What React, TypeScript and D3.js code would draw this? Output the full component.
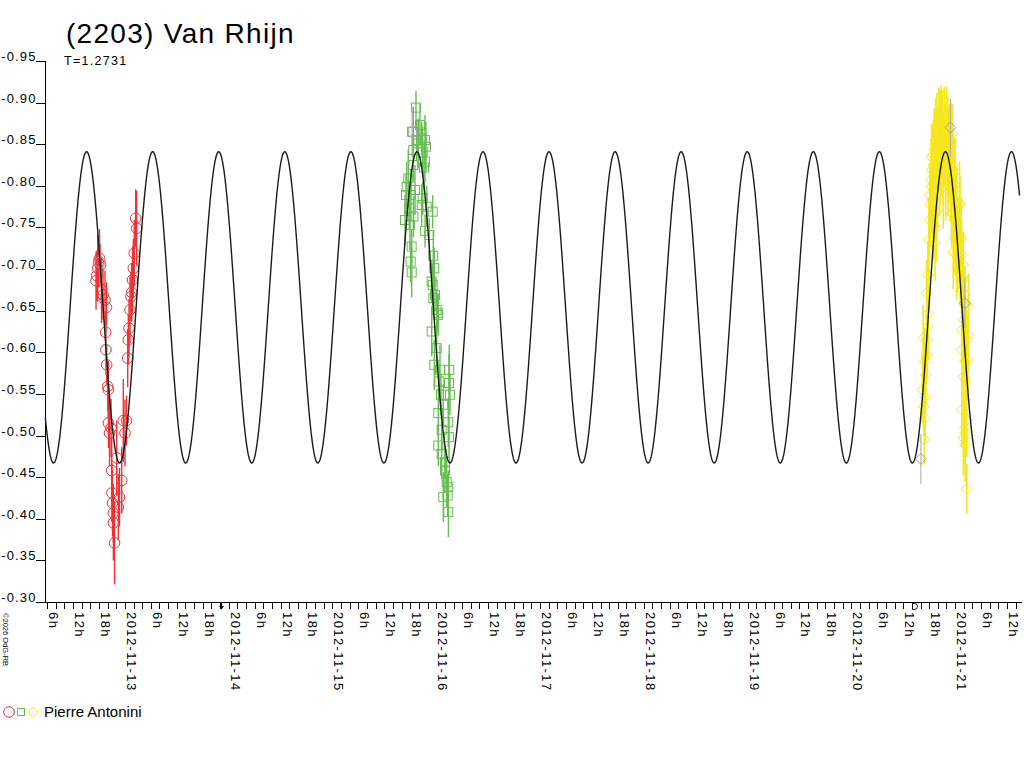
import { useEffect, useRef } from "react";
import * as d3 from "d3";

// time origin: 2012-11-12 00:00 UT, all hours below are counted from it
const BASE = Date.UTC(2012, 10, 12);
const HOUR = 3600 * 1000;

const TITLE = "(2203) Van Rhijn";
const PERIOD_LABEL = "T=1.2731";
const OBSERVER = "Pierre Antonini";
const COPYRIGHT = "©2026 OdG-RB";

// fitted lightcurve: period (days), epoch of maximum (hours), mean and half amplitude (mag)
const FIT_PERIOD = 1.2731;
const FIT_EPOCH = 15.15;
const FIT_MEAN = -0.654;
const FIT_AMP = 0.187;

const X_START = 5.6;
const X_END = 231;
const yTicks = [-0.95, -0.9, -0.85, -0.8, -0.75, -0.7, -0.65, -0.6, -0.55, -0.5, -0.45, -0.4, -0.35, -0.3];

// moon phases: new moon 2012-11-13, first quarter 2012-11-20
const moonHours = [46.13, 206.52];
const moonKinds = ["new", "first"];

// session 1 (red circles)
const redHours = [17.33, 17.49, 17.72, 17.91, 18.14, 18.37, 18.6, 18.95, 19.41, 19.76, 19.57, 19.6, 19.8, 20.03, 20.17, 20.2, 20.45, 20.8, 20.96, 21.0, 21.14, 21.33, 21.35, 21.61, 22.12, 22.49, 22.76, 23.27, 23.64, 24.03, 24.38, 24.66, 24.8, 24.96, 25.19, 25.42, 25.58, 25.77, 25.95, 26.18, 26.51, 26.74];
const redMag = [-0.686, -0.692, -0.701, -0.708, -0.713, -0.705, -0.675, -0.669, -0.663, -0.654, -0.624, -0.603, -0.585, -0.559, -0.555, -0.515, -0.503, -0.509, -0.458, -0.431, -0.419, -0.407, -0.395, -0.371, -0.473, -0.414, -0.426, -0.446, -0.518, -0.503, -0.518, -0.593, -0.615, -0.629, -0.651, -0.667, -0.672, -0.687, -0.701, -0.719, -0.761, -0.749];
const redErr = [0.035, 0.03, 0.04, 0.03, 0.035, 0.025, 0.04, 0.03, 0.035, 0.03, 0.025, 0.03, 0.025, 0.03, 0.035, 0.03, 0.04, 0.035, 0.04, 0.035, 0.04, 0.035, 0.045, 0.05, 0.045, 0.04, 0.035, 0.04, 0.05, 0.04, 0.03, 0.035, 0.03, 0.035, 0.04, 0.03, 0.035, 0.04, 0.035, 0.04, 0.035, 0.045];

// session 2 (green squares)
const greenHours = [88.78, 89.01, 89.17, 89.54, 89.77, 89.93, 90.09, 90.16, 90.32, 90.33, 90.69, 90.7, 90.71, 90.72, 91.09, 91.32, 91.48, 91.85, 92.24, 92.63, 92.64, 92.87, 92.88, 93.17, 93.4, 93.41, 93.42, 93.63, 93.79, 94.39, 94.94, 94.95, 95.18, 95.19, 95.32, 95.33, 95.55, 95.56, 95.71, 96.1, 96.11, 96.33, 96.47, 96.48, 96.49, 96.71, 96.87, 97.1, 97.26, 97.27, 97.63, 97.64, 98.02, 98.03, 98.42, 98.65, 98.79, 98.8, 98.81, 98.95, 98.96, 99.02, 99.18];
const greenMag = [-0.759, -0.789, -0.799, -0.809, -0.773, -0.753, -0.709, -0.789, -0.727, -0.696, -0.843, -0.865, -0.825, -0.763, -0.795, -0.894, -0.855, -0.851, -0.873, -0.857, -0.777, -0.841, -0.785, -0.822, -0.855, -0.829, -0.746, -0.847, -0.775, -0.741, -0.685, -0.625, -0.769, -0.681, -0.716, -0.665, -0.701, -0.585, -0.669, -0.651, -0.605, -0.647, -0.645, -0.527, -0.488, -0.565, -0.579, -0.549, -0.507, -0.478, -0.537, -0.426, -0.468, -0.458, -0.444, -0.428, -0.516, -0.438, -0.408, -0.563, -0.498, -0.579, -0.549];
const greenErr = [0.03, 0.025, 0.03, 0.035, 0.025, 0.03, 0.025, 0.03, 0.02, 0.03, 0.025, 0.03, 0.02, 0.025, 0.03, 0.02, 0.025, 0.03, 0.025, 0.02, 0.025, 0.03, 0.02, 0.025, 0.03, 0.025, 0.02, 0.03, 0.025, 0.02, 0.025, 0.03, 0.02, 0.025, 0.03, 0.02, 0.025, 0.03, 0.02, 0.025, 0.03, 0.02, 0.025, 0.03, 0.025, 0.02, 0.03, 0.025, 0.02, 0.03, 0.025, 0.03, 0.02, 0.025, 0.03, 0.025, 0.03, 0.02, 0.03, 0.035, 0.025, 0.03, 0.025];

// session 3 (yellow diamonds)
const yellowHours = [208.43, 208.61, 208.77, 208.89, 209.0, 209.01, 209.02, 209.23, 209.4, 209.41, 209.58, 209.7, 209.77, 209.79, 209.93, 210.09, 210.17, 210.28, 210.47, 210.56, 210.57, 210.63, 210.79, 210.94, 210.95, 210.97, 211.16, 211.32, 211.34, 211.48, 211.62, 211.62, 211.73, 211.78, 211.94, 212.09, 212.1, 212.25, 212.41, 212.49, 212.5, 212.6, 212.72, 212.87, 212.88, 212.95, 213.1, 213.25, 213.29, 213.48, 213.63, 213.8, 213.98, 214.03, 214.17, 214.33, 214.33, 214.4, 214.56, 214.72, 214.91, 215.09, 215.18, 215.25, 215.41, 215.48, 215.55, 215.71, 215.87, 215.94, 215.95, 215.96, 216.17, 216.35, 216.4, 216.63, 216.86, 217.02, 217.11, 217.2, 217.39, 217.51, 217.52, 217.53, 217.54, 217.55, 217.78, 217.86, 217.87, 217.88, 217.89, 218.01, 218.27, 218.28, 218.29, 218.3, 218.31, 218.32, 218.47, 218.7, 218.7, 218.71, 218.94, 219.07, 219.08];
const yellowMag = [-0.555, -0.617, -0.535, -0.495, -0.589, -0.547, -0.521, -0.573, -0.671, -0.597, -0.615, -0.693, -0.647, -0.631, -0.735, -0.759, -0.789, -0.777, -0.807, -0.835, -0.799, -0.819, -0.783, -0.837, -0.751, -0.825, -0.843, -0.813, -0.731, -0.855, -0.831, -0.749, -0.769, -0.867, -0.801, -0.843, -0.851, -0.873, -0.819, -0.885, -0.827, -0.855, -0.891, -0.873, -0.859, -0.843, -0.87, -0.799, -0.831, -0.879, -0.849, -0.813, -0.885, -0.867, -0.837, -0.819, -0.861, -0.847, -0.831, -0.843, -0.807, -0.855, -0.767, -0.783, -0.863, -0.825, -0.721, -0.759, -0.801, -0.817, -0.795, -0.737, -0.747, -0.703, -0.777, -0.723, -0.741, -0.779, -0.777, -0.699, -0.737, -0.717, -0.627, -0.603, -0.531, -0.675, -0.689, -0.705, -0.687, -0.571, -0.497, -0.639, -0.669, -0.657, -0.589, -0.51, -0.503, -0.489, -0.567, -0.615, -0.519, -0.436, -0.591, -0.655, -0.621];
const yellowErr = [0.04, 0.04, 0.035, 0.03, 0.04, 0.045, 0.03, 0.04, 0.04, 0.035, 0.045, 0.04, 0.045, 0.04, 0.05, 0.045, 0.035, 0.05, 0.045, 0.04, 0.055, 0.05, 0.045, 0.035, 0.04, 0.055, 0.05, 0.045, 0.045, 0.05, 0.055, 0.04, 0.035, 0.045, 0.055, 0.05, 0.04, 0.045, 0.055, 0.03, 0.05, 0.045, 0.03, 0.04, 0.05, 0.055, 0.045, 0.05, 0.055, 0.04, 0.05, 0.055, 0.035, 0.04, 0.05, 0.055, 0.045, 0.045, 0.05, 0.055, 0.05, 0.045, 0.04, 0.05, 0.035, 0.05, 0.045, 0.05, 0.055, 0.04, 0.035, 0.045, 0.05, 0.04, 0.045, 0.05, 0.045, 0.05, 0.035, 0.045, 0.05, 0.045, 0.04, 0.035, 0.045, 0.05, 0.045, 0.04, 0.035, 0.04, 0.045, 0.05, 0.035, 0.04, 0.045, 0.035, 0.04, 0.045, 0.05, 0.035, 0.045, 0.03, 0.05, 0.04, 0.045];

// points shown in grey
const greyHours = [18.25, 19.64, 90.4, 208.08, 214.9, 218.25];
const greyMag = [-0.708, -0.603, -0.865, -0.472, -0.87, -0.659];
const greyErr = [0.03, 0.03, 0.03, 0.03, 0.035, 0.03];
const greyShape = ["circle", "circle", "square", "diamond", "diamond", "diamond"];

const FONT = "'Liberation Sans', Arial, sans-serif";

export default function App() {
  const ref = useRef(null);

  useEffect(() => {
    if (!ref.current) return;
    const width = 1024;
    const height = 768;
    const root = d3.select(ref.current);
    root.selectAll("*").remove();

    const svg = root
      .append("svg")
      .attr("width", width)
      .attr("height", height)
      .style("display", "block")
      .style("background", "#fff");

    const toDate = (h: number) => new Date(BASE + h * HOUR);
    const x = d3.scaleUtc().domain([toDate(X_START), toDate(X_END)]).range([45.3, 1020]);
    const y = d3.scaleLinear().domain([-0.95, -0.3]).range([61, 602]);

    // title
    svg.append("text")
      .attr("x", 66).attr("y", 43)
      .style("font-family", FONT).style("font-size", "28px").style("letter-spacing", "1.3px")
      .text(TITLE);
    svg.append("text")
      .attr("x", 64).attr("y", 65)
      .style("font-family", FONT).style("font-size", "12.5px").style("letter-spacing", "1.3px")
      .text(PERIOD_LABEL);

    // y axis
    const axes = svg.append("g").attr("shape-rendering", "crispEdges");
    axes.append("line").attr("x1", 45.5).attr("x2", 45.5).attr("y1", y(-0.95)).attr("y2", 602.5).attr("stroke", "#000");
    yTicks.forEach((t) => {
      axes.append("line").attr("x1", 36).attr("x2", 45.5).attr("y1", Math.round(y(t)) + 0.5).attr("y2", Math.round(y(t)) + 0.5).attr("stroke", "#000");
      svg.append("text")
        .attr("x", 36.5).attr("y", y(t))
        .attr("text-anchor", "end")
        .style("font-family", FONT).style("font-size", "13px").style("letter-spacing", "1.1px")
        .text(t.toFixed(2));
    });

    // x axis
    axes.append("line").attr("x1", 45.5).attr("x2", 1022).attr("y1", 602.5).attr("y2", 602.5).attr("stroke", "#000");
    const fmtDay = d3.utcFormat("%Y-%m-%d");
    x.ticks(d3.utcHour.every(2)!).forEach((d) => {
      const px = Math.round(x(d)) + 0.5;
      axes.append("line").attr("x1", px).attr("x2", px).attr("y1", 602.5).attr("y2", 609).attr("stroke", "#000");
      const hr = d.getUTCHours();
      if (hr % 6 !== 0) return;
      svg.append("text")
        .attr("transform", `translate(${px + 1.5},612) rotate(90)`)
        .style("font-family", FONT).style("font-size", "13px").style("letter-spacing", "1.4px")
        .text(hr === 0 ? fmtDay(d) : `${hr}h`);
    });

    // moon phase marks on the time axis
    moonHours.forEach((h, i) => {
      const px = Math.round(x(toDate(h))) + 0.5;
      if (moonKinds[i] === "new") {
        svg.append("line").attr("x1", px).attr("x2", px).attr("y1", 603).attr("y2", 609).attr("stroke", "#000");
        svg.append("path").attr("d", `M${px - 2.5},606 L${px + 2.5},606 L${px},609.5 Z`).attr("fill", "#000");
      } else {
        svg.append("path")
          .attr("d", `M${px - 2},603.5 L${px - 2},609.5 L${px},609.5 A3,3 0 0 0 ${px},603.5 Z`)
          .attr("fill", "none").attr("stroke", "#000").attr("stroke-width", 0.9);
      }
    });

    // copyright
    svg.append("text")
      .attr("transform", "translate(3,613) rotate(90)")
      .style("font-family", FONT).style("font-size", "7.5px")
      .text(COPYRIGHT);

    const drawMarker = (g: any, shape: string, cx: number, cy: number, color: string) => {
      if (shape === "circle") {
        g.append("circle").attr("cx", cx).attr("cy", cy).attr("r", 5.3)
          .attr("fill", "none").attr("stroke", color).attr("stroke-width", 1);
      } else if (shape === "square") {
        g.append("rect").attr("x", cx - 4.5).attr("y", cy - 4.5).attr("width", 9).attr("height", 9)
          .attr("fill", "none").attr("stroke", color).attr("stroke-width", 1);
      } else {
        g.append("path").attr("d", `M${cx},${cy - 5.5} L${cx + 5.5},${cy} L${cx},${cy + 5.5} L${cx - 5.5},${cy} Z`)
          .attr("fill", "none").attr("stroke", color).attr("stroke-width", 1);
      }
    };

    const drawSession = (hours: number[], mags: number[], errs: number[], shape: string, color: string, barWidth: number) => {
      const g = svg.append("g");
      hours.forEach((h, i) => {
        const cx = x(toDate(h));
        g.append("line")
          .attr("x1", cx).attr("x2", cx)
          .attr("y1", y(mags[i] - errs[i])).attr("y2", y(mags[i] + errs[i]))
          .attr("stroke", color).attr("stroke-width", barWidth);
      });
      hours.forEach((h, i) => drawMarker(g, shape, x(toDate(h)), y(mags[i]), color));
    };

    drawSession(redHours, redMag, redErr, "circle", "#ee3338", 1.4);
    drawSession(greenHours, greenMag, greenErr, "square", "#64be50", 1.4);
    drawSession(yellowHours, yellowMag, yellowErr, "diamond", "#f5e61e", 1.6);

    const gg = svg.append("g");
    greyHours.forEach((h, i) => {
      const cx = x(toDate(h));
      gg.append("line").attr("x1", cx).attr("x2", cx)
        .attr("y1", y(greyMag[i] - greyErr[i])).attr("y2", y(greyMag[i] + greyErr[i]))
        .attr("stroke", "#a8a8a8").attr("stroke-width", 1);
      drawMarker(gg, greyShape[i], cx, y(greyMag[i]), "#a0a0a0");
    });

    // fitted curve
    const fit = (h: number) => FIT_MEAN - FIT_AMP * Math.cos((4 * Math.PI * (h - FIT_EPOCH)) / (FIT_PERIOD * 24));
    const hs = d3.range(X_START, X_END, 0.1);
    svg.append("path")
      .datum(hs)
      .attr("d", d3.line<number>().x((h) => x(toDate(h))).y((h) => y(fit(h))))
      .attr("fill", "none").attr("stroke", "#1a1a1a").attr("stroke-width", 1.4);

    // legend
    const lg = svg.append("g");
    drawMarker(lg, "circle", 9, 712, "#ee3338");
    lg.append("rect").attr("x", 17.5).attr("y", 708.5).attr("width", 7).attr("height", 7)
      .attr("fill", "none").attr("stroke", "#64be50");
    lg.append("path").attr("d", "M33,707 L38,712 L33,717 L28,712 Z").attr("fill", "none").attr("stroke", "#f5e61e");
    lg.append("text")
      .attr("x", 44).attr("y", 717)
      .style("font-family", FONT).style("font-size", "15px")
      .text(OBSERVER);
  }, []);

  return <div ref={ref} style={{ position: "absolute", left: 0, top: 0, width: 1024, height: 768 }} />;
}
